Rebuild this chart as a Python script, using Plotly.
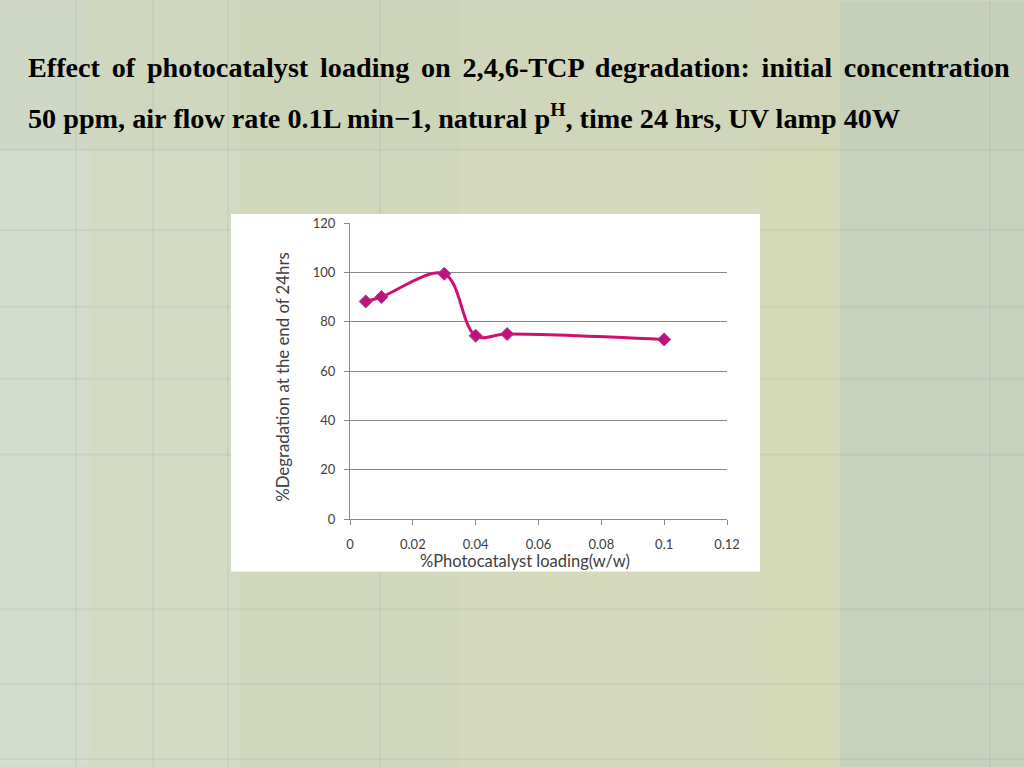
import plotly.graph_objects as go

# ---- data ----
loading = [0.005, 0.01, 0.03, 0.04, 0.05, 0.1]
degradation = [88.2, 90.0, 99.4, 74.3, 75.0, 72.8]
x_ticks = [0, 0.02, 0.04, 0.06, 0.08, 0.1, 0.12]
x_tick_labels = ["0", "0.02", "0.04", "0.06", "0.08", "0.1", "0.12"]
y_ticks = [0, 20, 40, 60, 80, 100, 120]

title_line1_words = ["Effect", "of", "photocatalyst", "loading", "on", "2,4,6-TCP",
                     "degradation:", "initial", "concentration"]
title_line2 = "50 ppm, air flow rate 0.1L min\u22121, natural p<sup>H</sup>, time 24 hrs, UV lamp 40W"
x_title = "%Photocatalyst loading(w/w)"
y_title = "%Degradation at the end of 24hrs"

W, H = 1024, 768
L, R, T, B = 350, 727, 223, 519.5
pw, ph = R - L, B - T

def px(x):
    return (x - L) / pw

def py(y):
    return (B - y) / ph

fig = go.Figure()
fig.add_trace(go.Scatter(
    x=loading, y=degradation, mode="lines+markers",
    line=dict(color="#D0106E", width=3, shape="spline", smoothing=1.0),
    marker=dict(symbol="diamond", size=10, color="#C4107A",
                line=dict(color="#9A3C96", width=1)),
    showlegend=False, cliponaxis=False,
))

shapes = []
# slide background bands
bands = [
    (0, 0, 90, 768, "#d4dccd"),
    (90, 0, 240, 768, "#d4dbc3"),
    (240, 0, 460, 768, "#d1d8bc"),
    (460, 0, 760, 768, "#d5dabd"),
    (760, 0, 840, 768, "#d4d9b8"),
    (840, 0, 1024, 768, "#c8d1bb"),
    (0, 0, 1024, 150, "rgba(195,205,178,0.3)"),
]
for x0, y0, x1, y1, c in bands:
    shapes.append(dict(type="rect", xref="paper", yref="paper", layer="below",
                       x0=px(x0), x1=px(x1), y0=py(y1), y1=py(y0),
                       fillcolor=c, line=dict(width=0)))
# faint tile lines
for yy in [150, 230, 307, 379, 455, 610, 685, 760]:
    shapes.append(dict(type="line", xref="paper", yref="paper", layer="below",
                       x0=px(0), x1=px(1024), y0=py(yy), y1=py(yy),
                       line=dict(color="rgba(150,160,140,0.15)", width=2)))
for xx in [76, 153, 228, 380, 990]:
    shapes.append(dict(type="line", xref="paper", yref="paper", layer="below",
                       x0=px(xx), x1=px(xx), y0=py(768), y1=py(0),
                       line=dict(color="rgba(150,160,140,0.12)", width=2)))
# white chart box
shapes.append(dict(type="rect", xref="paper", yref="paper", layer="below",
                   x0=px(231), x1=px(760), y0=py(572), y1=py(214),
                   fillcolor="white", line=dict(width=0)))

title_font = dict(family="Liberation Serif", size=28.2, color="black")
# justified first line: thin spacing added between words
line1 = " \u2006".join(title_line1_words)
annotations = [
    dict(text="<b>" + line1 + "</b>", xref="paper", yref="paper",
         x=px(26), y=py(67), xanchor="left", yanchor="middle", showarrow=False,
         font=title_font),
    dict(text="<b>" + title_line2 + "</b>", xref="paper", yref="paper",
         x=px(26), y=py(116), xanchor="left", yanchor="middle", showarrow=False,
         font=title_font),
    dict(text=x_title, xref="paper", yref="paper", x=px(525), y=py(562),
         xanchor="center", yanchor="middle", showarrow=False,
         font=dict(family="Lato", size=16.5, color="#404040")),
    dict(text=y_title, xref="paper", yref="paper", x=px(283), y=py(377),
         xanchor="center", yanchor="middle", showarrow=False, textangle=-90,
         font=dict(family="Lato", size=16.8, color="#404040")),
]

fig.update_layout(
    width=W, height=H,
    margin=dict(l=L, r=W - R, t=T, b=H - B, pad=0),
    paper_bgcolor="#d3d9c0", plot_bgcolor="white",
    shapes=shapes, annotations=annotations,
    xaxis=dict(range=[0, 0.12], tickvals=x_ticks, ticktext=x_tick_labels,
               showgrid=False, zeroline=False, showline=True,
               linecolor="#868686", linewidth=1, ticks="outside", ticklen=5,
               tickcolor="#868686", tickfont=dict(family="Lato", size=13, color="#404040"),
               ticklabelstandoff=8),
    yaxis=dict(range=[0, 120], tickvals=y_ticks, showgrid=True,
               gridcolor="#868686", gridwidth=1, zeroline=False, showline=True,
               linecolor="#868686", linewidth=1, ticks="outside", ticklen=5,
               tickcolor="#868686", tickfont=dict(family="Lato", size=13, color="#404040"),
               ticklabelstandoff=6),
)
fig.write_html("out.html", config={"displayModeBar": False},
               post_script="document.body.style.margin='0';document.body.style.overflow='hidden';")
